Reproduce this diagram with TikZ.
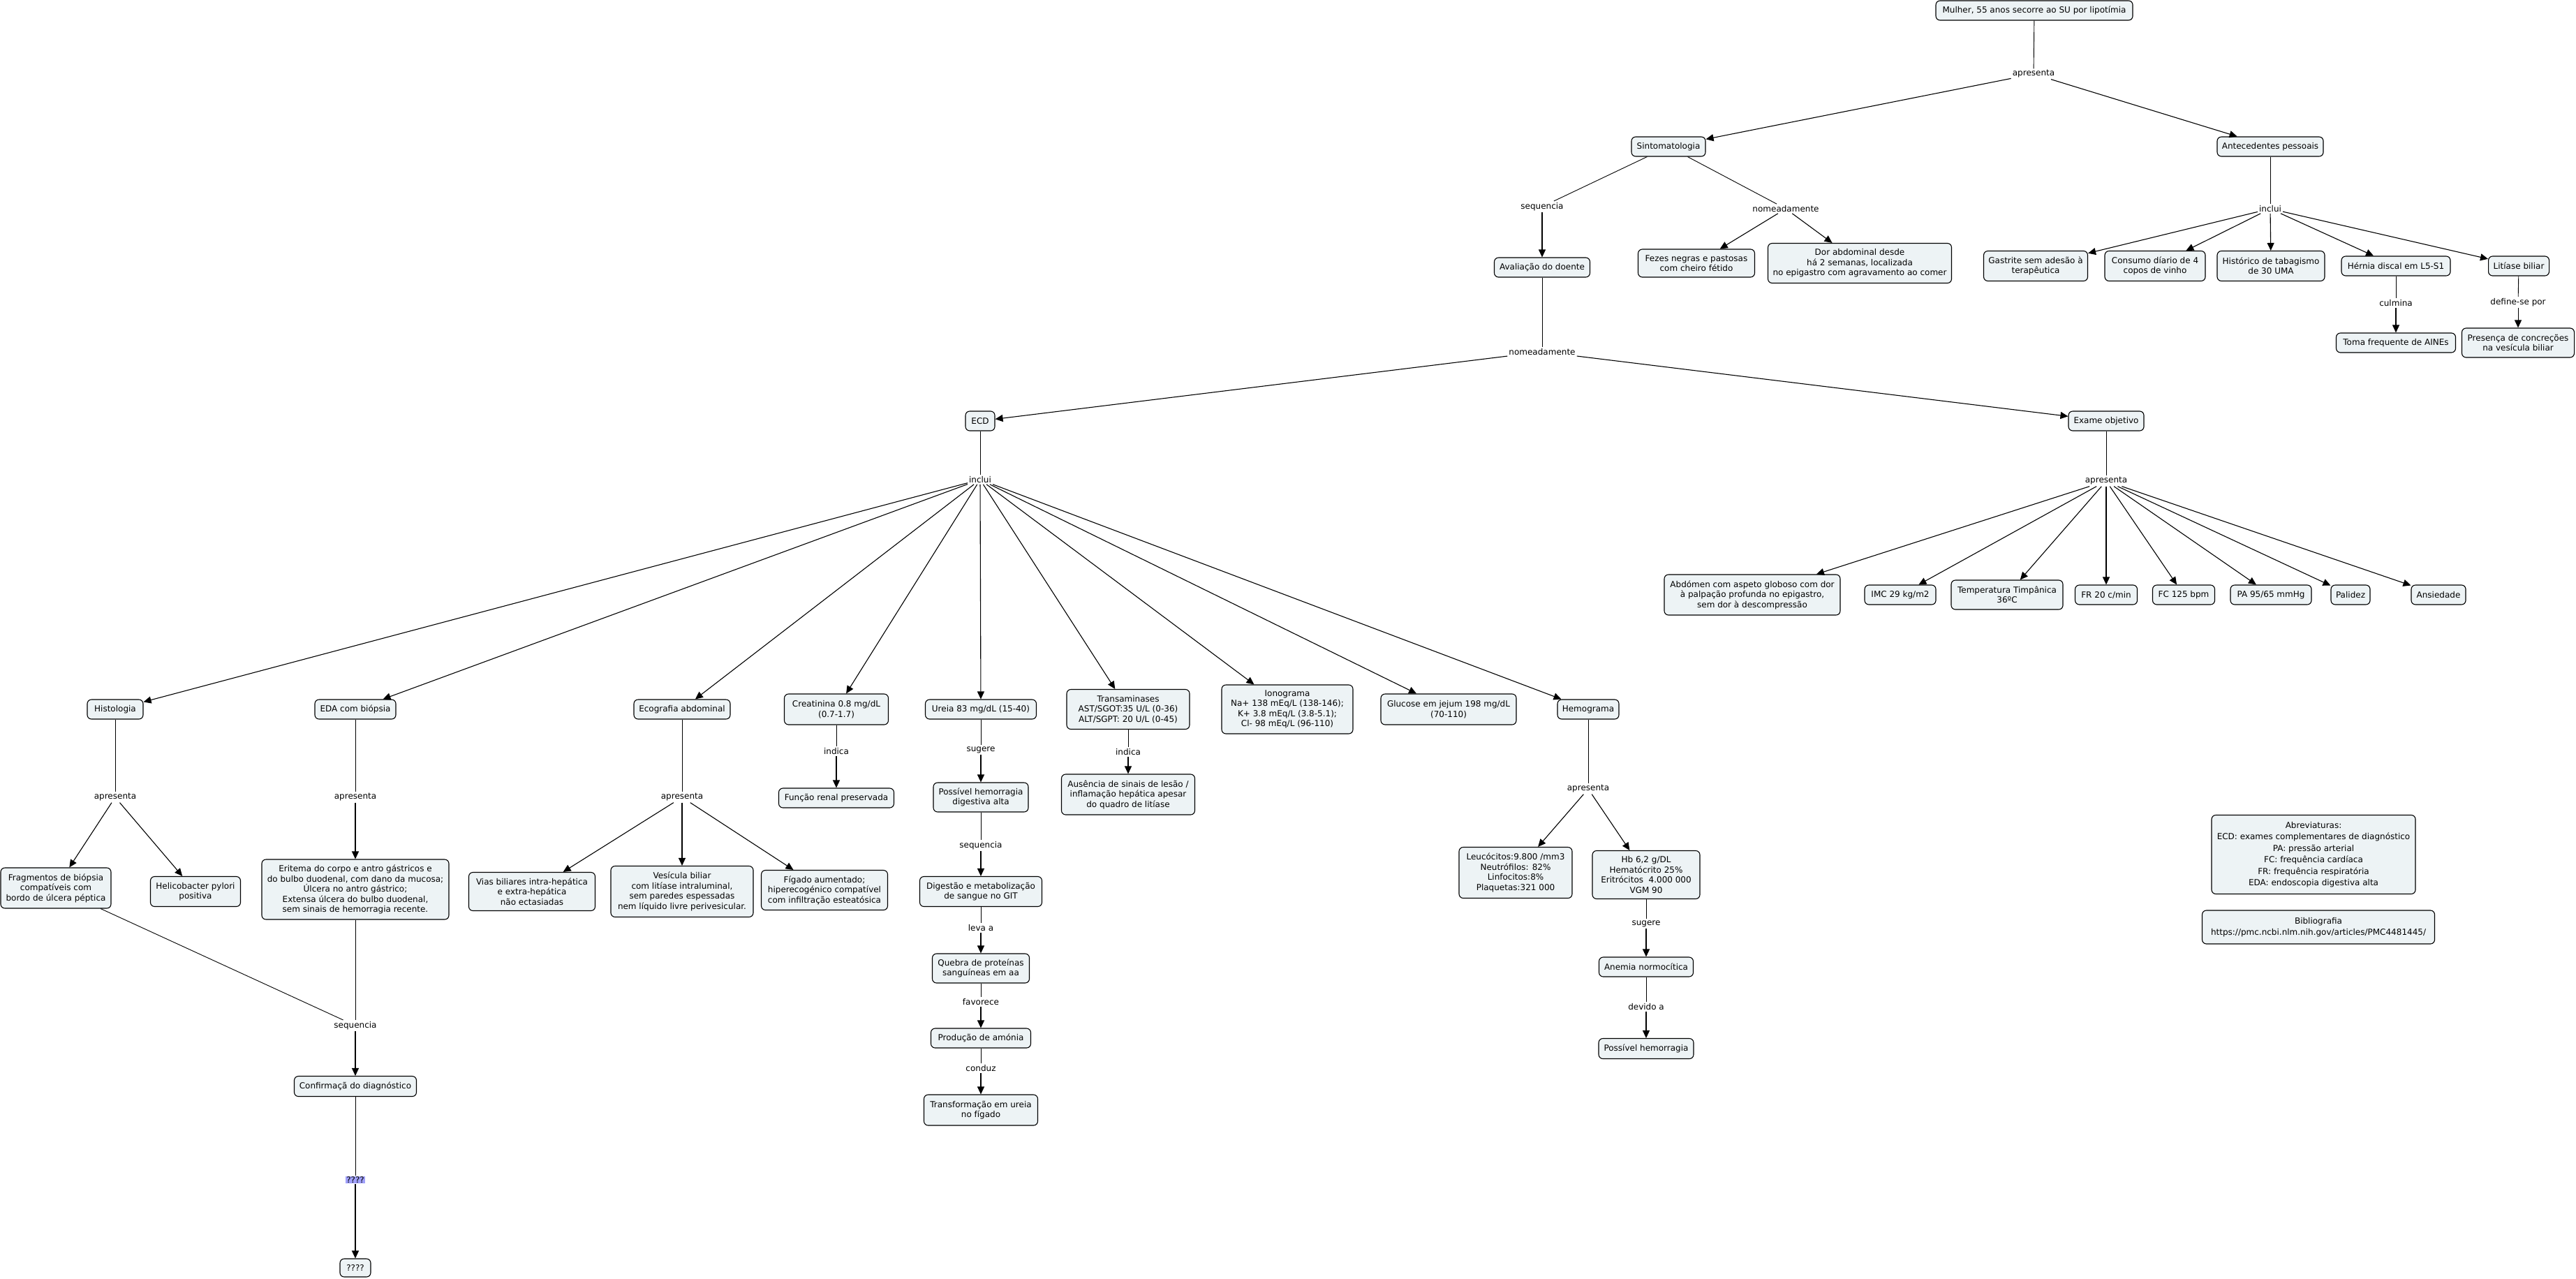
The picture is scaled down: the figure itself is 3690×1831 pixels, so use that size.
\documentclass[tikz,border=0pt]{standalone}
\usepackage{fontspec}
\setmainfont{DejaVu Sans}
\usetikzlibrary{arrows.meta}
\definecolor{boxfill}{RGB}{237,243,245}
\definecolor{qfill}{RGB}{160,160,250}
\tikzset{
  box/.style={draw, line width=1.1pt, rounded corners=6pt, fill=boxfill, align=center,
    inner xsep=3pt, inner ysep=2pt, font=\fontsize{12}{14.5}\selectfont},
  lab/.style={inner sep=2pt, font=\fontsize{12}{14.5}\selectfont},
  ln/.style={line width=0.9pt},
  arr/.style={line width=1.1pt, -{Triangle[length=11pt,width=10pt]}},
}
\newcommand{\bx}[6]{\node[box, minimum width=#4pt, minimum height=#5pt] (#1) at (#2,#3) {#6};}
\newcommand{\lb}[4]{\node[lab] (#1) at (#2,#3) {#4};}
\begin{document}
\begin{tikzpicture}[x=1pt,y=-1pt]
\useasboundingbox[fill=white] (0,0) rectangle (3690,1831);
% top
\bx{m}{2914}{15}{282}{28}{Mulher, 55 anos secorre ao SU por lipotímia}
\lb{apr1}{2913}{106}{apresenta}
\bx{sin}{2390}{210}{106}{28}{Sintomatologia}
\bx{ant}{3252}{210}{152}{28}{Antecedentes pessoais}
\lb{seq1}{2209}{296}{sequencia}
\lb{nom1}{2558}{299}{nomeadamente}
\bx{fez}{2430}{377}{167}{40}{Fezes negras e pastosas\\com cheiro fétido}
\bx{dor}{2664}{377}{263}{57}{Dor abdominal desde\\há 2 semanas, localizada\\no epigastro com agravamento ao comer}
\lb{inc1}{3252}{299}{inclui}
\bx{gas}{2916}{381}{149}{43}{Gastrite sem adesão à\\terapêutica}
\bx{con}{3087}{381}{144}{43}{Consumo díario de 4\\copos de vinho}
\bx{his}{3253}{381}{154}{43}{Histórico de tabagismo\\de 30 UMA}
\bx{her}{3432}{381}{156}{28}{Hérnia discal em L5-S1}
\bx{lit}{3608}{381}{87}{28}{Litíase biliar}
\lb{cul}{3432}{434}{culmina}
\lb{def}{3607}{433}{define-se por}
\bx{tom}{3432}{491}{171}{28}{Toma frequente de AINEs}
\bx{pre}{3607}{491}{161}{42}{Presença de concreções\\na vesícula biliar}
\bx{ava}{2209}{383}{137}{28}{Avaliação do doente}
\lb{nom2}{2209}{504}{nomeadamente}
\bx{ecd}{1404}{603}{42}{28}{ECD}
\bx{exa}{3017}{603}{108}{28}{Exame objetivo}
\lb{apr2}{3017}{689}{apresenta}
\bx{abd}{2510}{852}{252}{58}{Abdómen com aspeto globoso com dor\\à palpação profunda no epigastro,\\sem dor à descompressão}
\bx{imc}{2722}{852}{102}{28}{IMC 29 kg/m2}
\bx{tem}{2875}{852}{160}{42}{Temperatura Timpânica\\36ºC}
\bx{fr}{3017}{852}{89}{28}{FR 20 c/min}
\bx{fc}{3128}{852}{89}{28}{FC 125 bpm}
\bx{pa}{3253}{852}{116}{28}{PA 95/65 mmHg}
\bx{pal}{3367}{852}{56}{28}{Palidez}
\bx{ans}{3493}{852}{78}{28}{Ansiedade}
% ECD branch
\lb{inc2}{1404}{687}{inclui}
\bx{hist}{165}{1016}{80}{28}{Histologia}
\bx{eda}{509}{1016}{116}{28}{EDA com biópsia}
\bx{eco}{977}{1016}{138}{28}{Ecografia abdominal}
\bx{cre}{1198}{1016}{149}{44}{Creatinina 0.8 mg/dL\\(0.7-1.7)}
\bx{ure}{1405}{1016}{159}{28}{Ureia 83 mg/dL (15-40)}
\bx{tra}{1616}{1016}{176}{57}{Transaminases\\AST/SGOT:35 U/L (0-36)\\ALT/SGPT: 20 U/L (0-45)}
\bx{ion}{1844}{1016}{188}{70}{Ionograma\\Na+ 138 mEq/L (138-146);\\K+ 3.8 mEq/L (3.8-5.1);\\Cl- 98 mEq/L (96-110)}
\bx{glu}{2075}{1016}{194}{44}{Glucose em jejum 198 mg/dL\\(70-110)}
\bx{hem}{2275}{1016}{88}{28}{Hemograma}
\lb{apr3}{165}{1142}{apresenta}
\lb{apr4}{509}{1142}{apresenta}
\lb{apr5}{977}{1142}{apresenta}
\bx{fra}{80}{1272}{158}{58}{Fragmentos de biópsia\\compatíveis com\\bordo de úlcera péptica}
\bx{hel}{280}{1277}{129}{43}{Helicobacter pylori\\positiva}
\bx{eri}{509}{1274}{268}{86}{Eritema do corpo e antro gástricos e\\do bulbo duodenal, com dano da mucosa;\\Úlcera no antro gástrico;\\Extensa úlcera do bulbo duodenal,\\sem sinais de hemorragia recente.}
\bx{via}{762}{1277}{181}{55}{Vias biliares intra-hepática\\e extra-hepática\\não ectasiadas}
\bx{ves}{977}{1277}{204}{73}{Vesícula biliar\\com litíase intraluminal,\\sem paredes espessadas\\nem líquido livre perivesicular.}
\bx{fig}{1181}{1275}{181}{57}{Fígado aumentado;\\hiperecogénico compatível\\com infiltração esteatósica}
\lb{ind1}{1198}{1076}{indica}
\bx{fun}{1198}{1143}{165}{28}{Função renal preservada}
\lb{sug1}{1405}{1074}{sugere}
\bx{poss}{1405}{1142}{136}{42}{Possível hemorragia\\digestiva alta}
\lb{seq2}{1405}{1211}{sequencia}
\bx{dig}{1405}{1277}{175}{43}{Digestão e metabolização\\de sangue no GIT}
\lb{lev}{1405}{1329}{leva a}
\bx{que}{1405}{1387}{139}{42}{Quebra de proteínas\\sanguíneas em aa}
\lb{fav}{1405}{1435}{favorece}
\bx{pro}{1405}{1487}{143}{28}{Produção de amónia}
\lb{cond}{1405}{1530}{conduz}
\bx{trf}{1405}{1590}{163}{44}{Transformação em ureia\\no fígado}
\lb{ind2}{1616}{1077}{indica}
\bx{aus}{1616}{1138}{191}{58}{Ausência de sinais de lesão /\\inflamação hepática apesar\\do quadro de litíase}
\lb{apr6}{2275}{1130}{apresenta}
\bx{leu}{2171}{1250}{162}{73}{Leucócitos:9.800 /mm3\\Neutrófilos: 82\%\\Linfocitos:8\%\\Plaquetas:321 000}
\bx{hb}{2358}{1253}{154}{69}{Hb 6,2 g/DL\\Hematócrito 25\%\\Eritrócitos~ 4.000 000\\VGM 90}
\lb{sug2}{2358}{1323}{sugere}
\bx{ane}{2358}{1385}{135}{28}{Anemia normocítica}
\lb{dev}{2358}{1442}{devido a}
\bx{posh}{2358}{1502}{136}{29}{Possível hemorragia}
\node[box, minimum width=292pt, minimum height=113pt, font=\fontsize{12}{16.5}\selectfont] (abr) at (3314,1224) {Abreviaturas:\\ECD: exames complementares de diagnóstico\\PA: pressão arterial\\FC: frequência cardíaca\\FR: frequência respiratória\\EDA: endoscopia digestiva alta};
\node[box, minimum width=333pt, minimum height=48pt, font=\fontsize{12}{16.5}\selectfont] (bib) at (3321,1328) {Bibliografia\\https://pmc.ncbi.nlm.nih.gov/articles/PMC4481445/};
\lb{seq3}{509}{1469}{sequencia}
\bx{conf}{509}{1556}{175}{29}{Confirmaçã do diagnóstico}
\node[lab, fill=qfill, inner sep=1pt] (q) at (509,1690) {????};
\bx{qb}{509}{1816}{44}{26}{????}
% connectors
\draw[ln] (m) -- (apr1);
\draw[arr] (apr1) -- (sin);
\draw[arr] (apr1) -- (ant);
\draw[ln] (sin) -- (seq1);
\draw[arr] (seq1) -- (ava);
\draw[ln] (sin) -- (nom1);
\draw[arr] (nom1) -- (fez);
\draw[arr] (nom1) -- (dor);
\draw[ln] (ant) -- (inc1);
\foreach \t in {gas,con,his,her,lit} \draw[arr] (inc1) -- (\t);
\draw[ln] (her) -- (cul);
\draw[arr] (cul) -- (tom);
\draw[ln] (lit) -- (def);
\draw[arr] (def) -- (pre);
\draw[ln] (ava) -- (nom2);
\draw[arr] (nom2) -- (ecd);
\draw[arr] (nom2) -- (exa);
\draw[ln] (exa) -- (apr2);
\foreach \t in {abd,imc,tem,fr,fc,pa,pal,ans} \draw[arr] (apr2) -- (\t);
\draw[ln] (ecd) -- (inc2);
\foreach \t in {hist,eda,eco,cre,ure,tra,ion,glu,hem} \draw[arr] (inc2) -- (\t);
\draw[ln] (hist) -- (apr3);
\draw[arr] (apr3) -- (fra);
\draw[arr] (apr3) -- (hel);
\draw[ln] (eda) -- (apr4);
\draw[arr] (apr4) -- (eri);
\draw[ln] (eco) -- (apr5);
\foreach \t in {via,ves,fig} \draw[arr] (apr5) -- (\t);
\draw[ln] (cre) -- (ind1);
\draw[arr] (ind1) -- (fun);
\draw[ln] (ure) -- (sug1);
\draw[arr] (sug1) -- (poss);
\draw[ln] (poss) -- (seq2);
\draw[arr] (seq2) -- (dig);
\draw[ln] (dig) -- (lev);
\draw[arr] (lev) -- (que);
\draw[ln] (que) -- (fav);
\draw[arr] (fav) -- (pro);
\draw[ln] (pro) -- (cond);
\draw[arr] (cond) -- (trf);
\draw[ln] (tra) -- (ind2);
\draw[arr] (ind2) -- (aus);
\draw[ln] (hem) -- (apr6);
\draw[arr] (apr6) -- (leu);
\draw[arr] (apr6) -- (hb);
\draw[ln] (hb) -- (sug2);
\draw[arr] (sug2) -- (ane);
\draw[ln] (ane) -- (dev);
\draw[arr] (dev) -- (posh);
\draw[ln] (fra) -- (seq3);
\draw[ln] (eri) -- (seq3);
\draw[arr] (seq3) -- (conf);
\draw[ln] (conf) -- (q);
\draw[arr] (q) -- (qb);
\end{tikzpicture}
\end{document}
